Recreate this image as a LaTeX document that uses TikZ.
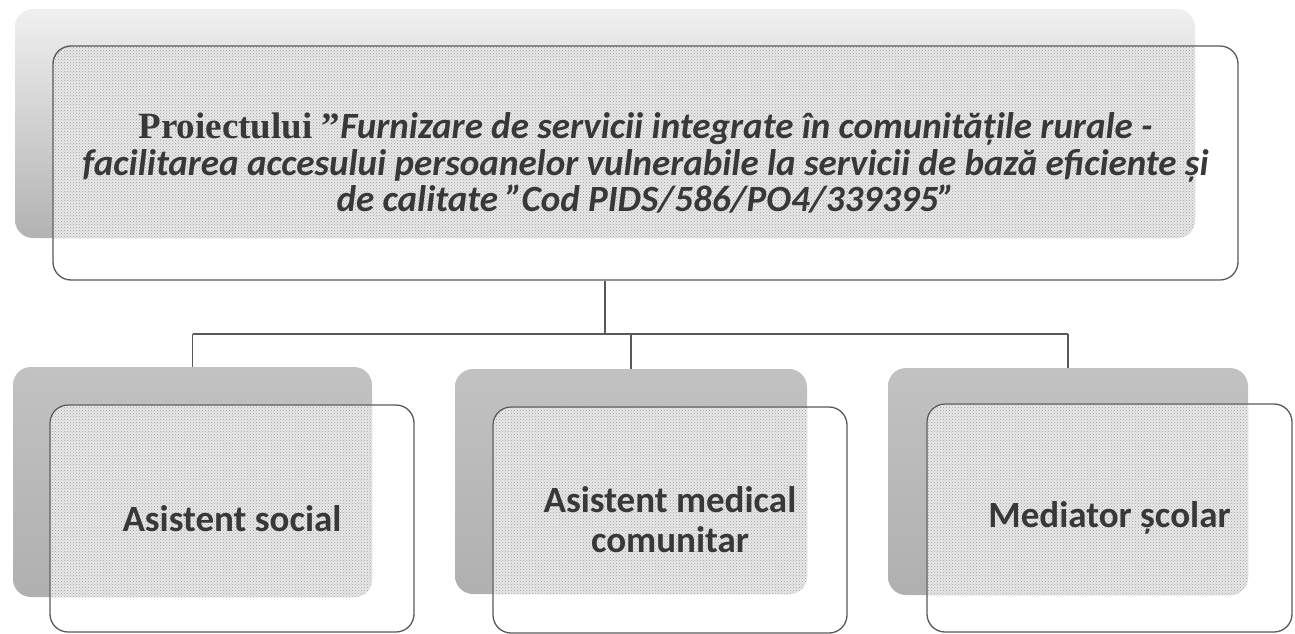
\documentclass[tikz,border=0pt]{standalone}
\usepackage{fontspec}
\setmainfont{Carlito}
\newfontfamily\timesfont{Liberation Serif}
\usetikzlibrary{patterns}
\pgfdeclarelayer{back}
\pgfdeclarelayer{dots}
\pgfsetlayers{back,dots,main}
\tikzset{
	shadowbox/.style = {rectangle, rounded corners = 18pt, inner sep = 0pt, top color = gray!48, bottom color = gray!62},
	frontbox/.style = {rectangle, rounded corners = 18pt, draw = black!65, line width = 1.3pt, inner sep = 0pt, align = center, text = black!78},
	dotfill/.style = {fill = gray!18, postaction = {pattern = crosshatch dots, pattern color = gray!75}},
	link/.style = {draw = black!65, line width = 1.2pt},
	leaf/.style = {frontbox, font = \fontsize{37}{40}\selectfont\bfseries}
}
\begin{document}
\begin{tikzpicture}[x = 1pt, y = -1pt]
	\useasboundingbox (0, 0) rectangle (1295, 634);
	\node[frontbox, minimum width = 1185pt, minimum height = 234pt, font = \fontsize{37}{36.5}\selectfont\bfseries\itshape] (tf) at (645.5, 163) {{\timesfont\upshape\fontsize{37}{36.5}\selectfont Proiectului ”}Furnizare de servicii integrate în comunitățile rurale -\\facilitarea accesului persoanelor vulnerabile la servicii de bază eficiente și\\de calitate ”Cod PIDS/586/PO4/339395”};
	\node[leaf, minimum width = 364pt, minimum height = 227pt] (lf) at (232, 518.5) {Asistent social};
	\node[leaf, minimum width = 354pt, minimum height = 226pt] (mf) at (670, 520) {Asistent medical\\comunitar};
	\node[leaf, minimum width = 365pt, minimum height = 228pt] (rf) at (1109.5, 518) {Mediator școlar};
	\begin{pgfonlayer}{back}
		\node[shadowbox, top color = gray!12, bottom color = gray!60, minimum width = 1180pt, minimum height = 229pt] (ts) at (605, 123.5) {};
		\node[shadowbox, minimum width = 359pt, minimum height = 230pt] (ls) at (192.5, 482) {};
		\node[shadowbox, minimum width = 352pt, minimum height = 225pt] (ms) at (631, 481.5) {};
		\node[shadowbox, minimum width = 360pt, minimum height = 227pt] (rs) at (1068, 481.5) {};
	\end{pgfonlayer}
	\begin{pgfonlayer}{dots}
		\foreach \s/\f in {ts/tf, ls/lf, ms/mf, rs/rf}{
			\begin{scope}
				\clip[rounded corners = 18pt] (\s.south west) rectangle (\s.north east);
				\path[dotfill, rounded corners = 18pt] (\f.south west) rectangle (\f.north east);
			\end{scope}
		}
	\end{pgfonlayer}
	\coordinate (bus) at (0, 334);
	\draw[link] (tf.south -| ts.center) -- (ts.center |- bus);
	\draw[link] (ls.north |- bus) -- (rs.north |- bus);
	\foreach \n in {ls, ms, rs}
		\draw[link] (\n.north |- bus) -- (\n.north);
\end{tikzpicture}
\end{document}
